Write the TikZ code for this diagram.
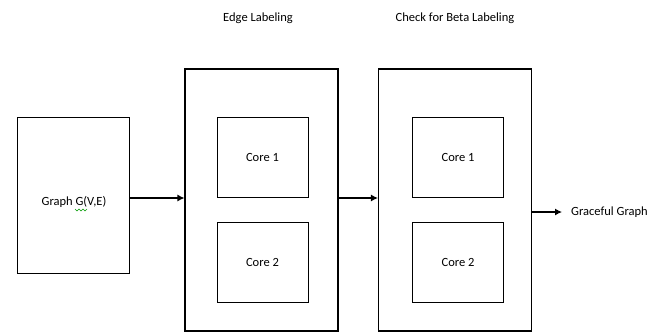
\documentclass[tikz,border=0pt]{standalone}
\usepackage{fontspec}
\setmainfont{Carlito}
\usetikzlibrary{positioning, arrows, arrows.meta}
\tikzset{>={Latex[length=7pt,width=7pt]}}
\tikzset{outerbox/.style={draw, line width=1.1pt, minimum width=153pt, minimum height=262pt, inner sep=0pt}}
\tikzset{corebox/.style={draw, line width=1pt, minimum width=91pt, minimum height=80pt, inner sep=0pt}}

\begin{document}
\begin{tikzpicture}[x=1pt, y=-1pt]
		\useasboundingbox (0,0) rectangle (662,333);
		\begin{scope}[every node/.append style={font=\fontsize{12.5}{14}\selectfont}]
			\node[draw, line width=1pt, minimum width=112pt, minimum height=156pt] (graph) at (73, 195) {};
			\node (graphtext) at (74, 202) {Graph G(V,E)};
			\node[outerbox] (edge) at (261.5, 200) {};
			\node[outerbox] (check) at (455, 200) {};
			\node[corebox] (e1) at (262.5, 157) {Core 1};
			\node[corebox] (e2) at (262.5, 262) {Core 2};
			\node[corebox] (c1) at (458, 157) {Core 1};
			\node[corebox] (c2) at (458, 262) {Core 2};
			\node (edgetitle) at (258, 18) {Edge Labeling};
			\node (checktitle) at (455, 18) {Check for Beta Labeling};
			\node[anchor=west, inner sep=0pt] (out) at (571, 212) {Graceful Graph};
		\end{scope}

		% spell check squiggle under the G
		\draw[green!60!black, line width=0.6pt] (75,209) -- (77,211) -- (79,209) -- (81,211) -- (83,209) -- (85,211) -- (87,209);

		\draw[->, line width=1.1pt] ([yshift=-3pt]graph.east) -- ([yshift=-3pt]graph.east -| edge.west);
		\draw[->, line width=1.1pt] ([yshift=2pt]edge.east) -- ([yshift=2pt]edge.east -| check.west);
		\draw[->, line width=1.1pt] (check.east |- out.west) -- ([xshift=-9pt]out.west);
	\end{tikzpicture}
\end{document}
